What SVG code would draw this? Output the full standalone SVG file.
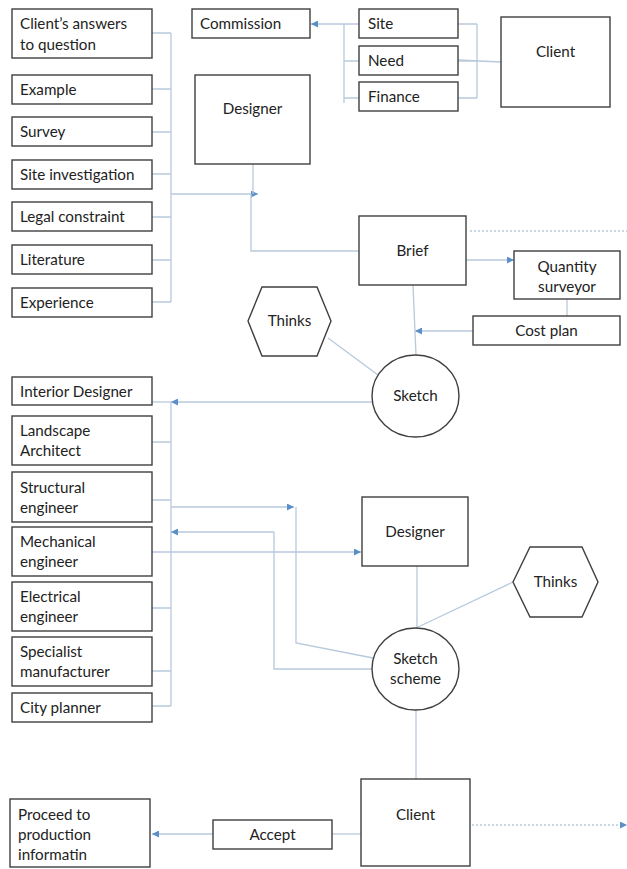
<svg xmlns="http://www.w3.org/2000/svg" width="627" height="869" viewBox="0 0 627 869">
<defs>
<style>
.b{fill:#fff;stroke:#3f3f3f;stroke-width:1.4}
.t{font-family:Lato,"Open Sans",sans-serif;font-size:15.2px;fill:#222}
.c{text-anchor:middle}
.l{fill:none;stroke:#b8c9dc;stroke-width:1.3}
.d{fill:none;stroke:#b8c9dc;stroke-width:1.3;stroke-dasharray:2 2}
.a{marker-end:url(#ah)}
</style>
<marker id="ah" viewBox="0 0 10 10" refX="10" refY="5" markerWidth="7" markerHeight="7" markerUnits="userSpaceOnUse" orient="auto">
<path d="M0,0 L10,5 L0,10 z" fill="#5b8fc7"/>
</marker>
</defs>
<g id="connectors">
<path class="l" d="M171,33 V302 M152,33 H171 M152,89 H171 M152,132 H171 M152,174 H171 M152,217 H171 M152,260 H171 M152,302 H171"/>
<path class="l a" d="M171,194 H258"/>
<path class="l" d="M253,164 V194"/>
<path class="l" d="M251,194 V251 H359"/>
<path class="l" d="M344,24 V103 M344,61 H359 M344,98 H359"/>
<path class="l a" d="M359,24 H311"/>
<path class="l" d="M477,24 V98 M458,24 H477 M458,61 H477 M458,98 H477 M458,60 L501,62"/>
<path class="d" d="M470,231 H627"/>
<path class="l a" d="M466,260 H514"/>
<path class="l" d="M567,299 V316"/>
<path class="l a" d="M473,331 H415"/>
<path class="l" d="M413,285 L416,355"/>
<path class="l" d="M328,338 L378,375"/>
<path class="l a" d="M372,402 H171"/>
<path class="l" d="M152,402 H171"/>
<path class="l" d="M171,402 V706 M152,442 H171 M152,500 H171 M152,608 H171 M152,671 H171 M152,706 H171"/>
<path class="l a" d="M171,507 H294"/>
<path class="l" d="M296,507 V643 L373,658"/>
<path class="l a" d="M274,532 H171"/>
<path class="l" d="M274,532 V669 H372"/>
<path class="l a" d="M152,552 H361"/>
<path class="l" d="M417,566 V628"/>
<path class="l" d="M513,582 L416,628"/>
<path class="l" d="M416,710 V779"/>
<path class="d a" d="M472,825 H627"/>
<path class="l" d="M332,834 H361"/>
<path class="l a" d="M213,834 H152"/>
</g>
<g id="n-answers"><rect class="b" x="12" y="9" width="140" height="49"/><text class="t" x="20" y="29">Client’s answers</text><text class="t" x="20" y="50">to question</text></g>
<g id="n-example"><rect class="b" x="12" y="75" width="140" height="29"/><text class="t" x="20" y="95">Example</text></g>
<g id="n-survey"><rect class="b" x="12" y="117" width="140" height="29"/><text class="t" x="20" y="137">Survey</text></g>
<g id="n-siteinv"><rect class="b" x="12" y="160" width="140" height="29"/><text class="t" x="20" y="180">Site investigation</text></g>
<g id="n-legal"><rect class="b" x="12" y="202" width="140" height="29"/><text class="t" x="20" y="222">Legal constraint</text></g>
<g id="n-literature"><rect class="b" x="12" y="245" width="140" height="29"/><text class="t" x="20" y="265">Literature</text></g>
<g id="n-experience"><rect class="b" x="12" y="288" width="140" height="29"/><text class="t" x="20" y="308">Experience</text></g>
<g id="n-commission"><rect class="b" x="192" y="9" width="118" height="29"/><text class="t" x="200" y="29">Commission</text></g>
<g id="n-designer1"><rect class="b" x="195" y="75" width="115" height="89"/><text class="t c" x="252.5" y="114">Designer</text></g>
<g id="n-site"><rect class="b" x="359" y="9" width="99" height="29"/><text class="t" x="368" y="29">Site</text></g>
<g id="n-need"><rect class="b" x="359" y="46" width="99" height="29"/><text class="t" x="368" y="66">Need</text></g>
<g id="n-finance"><rect class="b" x="359" y="82" width="99" height="29"/><text class="t" x="368" y="102">Finance</text></g>
<g id="n-client1"><rect class="b" x="501" y="17" width="109" height="90"/><text class="t c" x="555.5" y="57">Client</text></g>
<g id="n-brief"><rect class="b" x="359" y="216" width="107" height="69"/><text class="t c" x="412.5" y="256">Brief</text></g>
<g id="n-qs"><rect class="b" x="514" y="251" width="106" height="48"/><text class="t c" x="567" y="272">Quantity</text><text class="t c" x="567" y="292">surveyor</text></g>
<g id="n-costplan"><rect class="b" x="473" y="316" width="147" height="29"/><text class="t c" x="546.5" y="336">Cost plan</text></g>
<g id="n-thinks1"><polygon class="b" points="248,321 262,287 317,287 331,321 317,356 262,356"/><text class="t c" x="289.5" y="326">Thinks</text></g>
<g id="n-sketch"><ellipse class="b" cx="415.5" cy="396" rx="43.5" ry="41"/><text class="t c" x="415.5" y="401">Sketch</text></g>
<g id="n-interior"><rect class="b" x="12" y="377" width="140" height="28"/><text class="t" x="20" y="397">Interior Designer</text></g>
<g id="n-landscape"><rect class="b" x="12" y="416" width="140" height="49"/><text class="t" x="20" y="436">Landscape</text><text class="t" x="20" y="456">Architect</text></g>
<g id="n-structural"><rect class="b" x="12" y="472" width="140" height="50"/><text class="t" x="20" y="493">Structural</text><text class="t" x="20" y="513">engineer</text></g>
<g id="n-mechanical"><rect class="b" x="12" y="527" width="140" height="49"/><text class="t" x="20" y="547">Mechanical</text><text class="t" x="20" y="567">engineer</text></g>
<g id="n-electrical"><rect class="b" x="12" y="582" width="140" height="49"/><text class="t" x="20" y="602">Electrical</text><text class="t" x="20" y="622">engineer</text></g>
<g id="n-specialist"><rect class="b" x="12" y="637" width="140" height="49"/><text class="t" x="20" y="657">Specialist</text><text class="t" x="20" y="677">manufacturer</text></g>
<g id="n-city"><rect class="b" x="12" y="693" width="140" height="29"/><text class="t" x="20" y="713">City planner</text></g>
<g id="n-designer2"><rect class="b" x="362" y="497" width="106" height="69"/><text class="t c" x="415" y="537">Designer</text></g>
<g id="n-thinks2"><polygon class="b" points="513,582 530,547 582,547 598,582 582,617 530,617"/><text class="t c" x="555.5" y="587">Thinks</text></g>
<g id="n-sketchscheme"><ellipse class="b" cx="415.5" cy="669" rx="43.5" ry="41"/><text class="t c" x="415.5" y="664">Sketch</text><text class="t c" x="415.5" y="684">scheme</text></g>
<g id="n-client2"><rect class="b" x="361" y="779" width="109" height="87"/><text class="t c" x="415.5" y="820">Client</text></g>
<g id="n-accept"><rect class="b" x="213" y="820" width="119" height="29"/><text class="t c" x="272.5" y="840">Accept</text></g>
<g id="n-proceed"><rect class="b" x="10" y="799" width="140" height="68"/><text class="t" x="18" y="820">Proceed to</text><text class="t" x="18" y="840">production</text><text class="t" x="18" y="860">informatin</text></g>
</svg>
